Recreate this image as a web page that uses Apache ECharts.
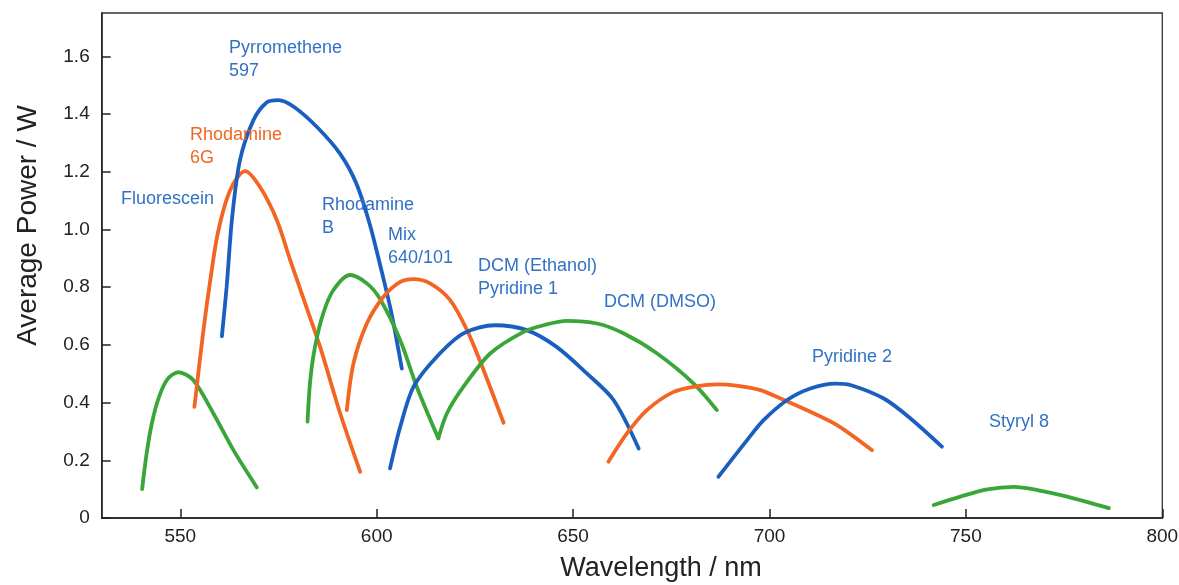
<!DOCTYPE html>
<html>
<head>
<meta charset="utf-8">
<script src="https://cdn.jsdelivr.net/npm/echarts@6/dist/echarts.min.js"></script>
<style>html,body{margin:0;padding:0;background:#fff;}#c{width:1179px;height:585px;}</style>
</head>
<body>
<div id="c"></div>
<script>
const xTicks = [550, 600, 650, 700, 750, 800];
const yTicks = [0, 0.2, 0.4, 0.6, 0.8, 1.0, 1.2, 1.4, 1.6];

const fluorescein = [[540.3,0.10],[541.4,0.22],[542.8,0.33],[544.6,0.42],[546.8,0.482],[549.5,0.505],[553.3,0.478],[558.4,0.363],[563.5,0.236],[569.5,0.106]];
const rhodamine6G = [[553.6,0.385],[555.9,0.651],[557.6,0.82],[559.6,0.99],[562.7,1.136],[566.5,1.202],[570.3,1.147],[574.6,1.032],[578,0.893],[581.5,0.755],[585.6,0.593],[590.7,0.363],[595.8,0.160]];
const pyrromethene597 = [[560.6,0.63],[561.8,0.80],[563.2,1.04],[565.2,1.24],[568.6,1.378],[572,1.44],[575,1.448],[578.8,1.426],[584.8,1.355],[590.7,1.262],[594.8,1.16],[598.2,1.02],[601,0.87],[603.6,0.72],[606.4,0.518]];
const rhodamineB = [[582.4,0.334],[583.1,0.478],[584.3,0.593],[586.4,0.709],[589,0.79],[593.2,0.842],[597.5,0.813],[600.9,0.758],[606,0.616],[610.2,0.455],[615.7,0.276]];
const mix640 = [[592.4,0.374],[594.1,0.536],[597.5,0.674],[601.7,0.766],[606,0.818],[609.4,0.828],[613.6,0.813],[618.7,0.755],[623,0.651],[627.2,0.513],[632.3,0.33]];
const dcmEthanol = [[603.4,0.172],[606,0.316],[609.4,0.455],[615.3,0.559],[622.1,0.64],[630.1,0.668],[638.2,0.651],[645.8,0.593],[653.5,0.501],[660.3,0.409],[666.7,0.241]];
const dcmDMSO = [[615.7,0.276],[617.9,0.363],[622.1,0.455],[628.9,0.57],[637.4,0.645],[642.5,0.668],[648.4,0.683],[656.1,0.674],[662.8,0.64],[671.4,0.57],[680.7,0.466],[686.6,0.374]];
const orange700 = [[659,0.195],[663.7,0.293],[668.8,0.374],[675.6,0.437],[681.6,0.457],[686.6,0.463],[692,0.458],[697.7,0.443],[702.8,0.414],[710.4,0.368],[717.2,0.322],[726.1,0.235]];
const pyridine2 = [[687,0.143],[694.3,0.27],[698.5,0.339],[704.5,0.409],[710.4,0.449],[716.8,0.466],[720.6,0.461],[729.1,0.414],[735.9,0.345],[743.9,0.247]];
const styryl8 = [[741.8,0.045],[748.6,0.074],[755.4,0.099],[762.2,0.108],[768.2,0.097],[775.8,0.074],[786.4,0.034]];

const BLUE = '#1a5fbf', GREEN = '#3aa63a', ORANGE = '#f26522', LBLUE = '#3272c4';

const chart = echarts.init(document.getElementById('c'));
function line(name, data, color) {
  return {name, type:'line', data, smooth:0.3, showSymbol:false, symbol:'none',
    lineStyle:{color, width:3.8, cap:'round'}, itemStyle:{color}, z:3};
}
const FONT = 'Liberation Sans, Arial, sans-serif';
function lbl(text, x, y, color) {
  return {type:'text', left:x, top:y, z:10,
    style:{text, fill:color, font:'18px ' + FONT, lineHeight:23}};
}
chart.setOption({
  animation:false,
  grid:{left:101.7, right:16.7, top:13, bottom:67, show:true, borderColor:'#333', borderWidth:1.3,
    containLabel:false, outerBoundsMode:'none'},
  xAxis:{type:'value', min:530, max:800,
    name:'Wavelength / nm', nameLocation:'middle', nameGap:37,
    nameTextStyle:{fontSize:27, color:'#222', fontFamily:FONT, padding:[0,0,0,58]},
    axisLine:{lineStyle:{color:'#222', width:1.5}},
    axisTick:{inside:true, length:9, customValues:xTicks, lineStyle:{color:'#222', width:1.5}},
    axisLabel:{customValues:xTicks, fontSize:19, color:'#222', fontFamily:FONT, margin:9},
    splitLine:{show:false}},
  yAxis:{type:'value', min:0, max:1.75,
    name:'Average Power / W', nameLocation:'middle', nameGap:59,
    nameTextStyle:{fontSize:28, color:'#222', fontFamily:FONT, padding:[0,0,0,80]},
    axisLine:{show:true, lineStyle:{color:'#222', width:1.5}},
    axisTick:{inside:true, length:9, customValues:yTicks, lineStyle:{color:'#222', width:1.5}},
    axisLabel:{customValues:yTicks, fontSize:19, color:'#222', fontFamily:FONT, margin:12,
      formatter:v => v === 0 ? '0' : v.toFixed(1)},
    splitLine:{show:false}},
  series:[
    line('Fluorescein', fluorescein, GREEN),
    line('Rhodamine 6G', rhodamine6G, ORANGE),
    line('Pyrromethene 597', pyrromethene597, BLUE),
    line('Rhodamine B', rhodamineB, GREEN),
    line('Mix 640/101', mix640, ORANGE),
    line('DCM (Ethanol) / Pyridine 1', dcmEthanol, BLUE),
    line('DCM (DMSO)', dcmDMSO, GREEN),
    line('DCM (DMSO) orange', orange700, ORANGE),
    line('Pyridine 2', pyridine2, BLUE),
    line('Styryl 8', styryl8, GREEN)
  ],
  graphic:[
    lbl('Pyrromethene\n597', 229, 37, LBLUE),
    lbl('Rhodamine\n6G', 190, 124, ORANGE),
    lbl('Fluorescein', 121, 188, LBLUE),
    lbl('Rhodamine\nB', 322, 194, LBLUE),
    lbl('Mix\n640/101', 388, 224, LBLUE),
    lbl('DCM (Ethanol)\nPyridine 1', 478, 255, LBLUE),
    lbl('DCM (DMSO)', 604, 291, LBLUE),
    lbl('Pyridine 2', 812, 346, LBLUE),
    lbl('Styryl 8', 989, 411, LBLUE)
  ]
});
</script>
</body>
</html>
